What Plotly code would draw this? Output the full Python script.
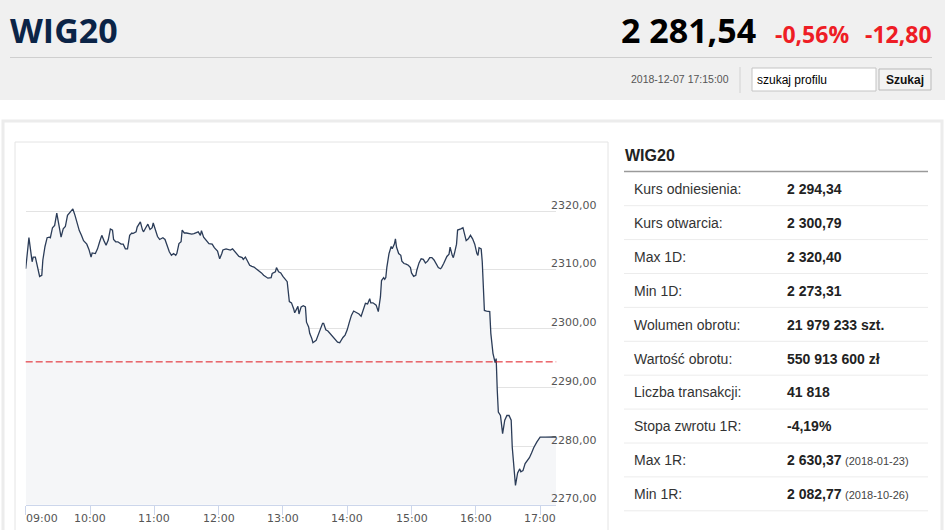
import plotly.graph_objects as go

W, H = 945, 530

# intraday WIG20 quotes, 2018-12-07
TIMES = [
    "09:00", "09:03", "09:06", "09:07", "09:09", "09:11", "09:13", "09:15", "09:16", "09:18",
    "09:20", "09:22", "09:23", "09:25", "09:27", "09:29", "09:31", "09:33", "09:35", "09:37",
    "09:39", "09:41", "09:44", "09:46", "09:48", "09:50", "09:52", "09:54", "09:57", "09:59",
    "10:01", "10:02", "10:05", "10:07", "10:09", "10:11", "10:13", "10:15", "10:17", "10:19",
    "10:21", "10:22", "10:24", "10:26", "10:29", "10:31", "10:33", "10:35", "10:37", "10:39",
    "10:40", "10:43", "10:44", "10:47", "10:49", "10:50", "10:52", "10:54", "10:56", "10:58",
    "10:59", "11:01", "11:03", "11:05", "11:08", "11:10", "11:12", "11:14", "11:16", "11:18",
    "11:20", "11:21", "11:23", "11:25", "11:26", "11:28", "11:30", "11:33", "11:35", "11:37",
    "11:40", "11:41", "11:43", "11:44", "11:46", "11:49", "11:51", "11:54", "11:56", "11:59",
    "12:01", "12:03", "12:04", "12:07", "12:09", "12:11", "12:13", "12:15", "12:17", "12:19",
    "12:22", "12:23", "12:25", "12:27", "12:29", "12:31", "12:33", "12:35", "12:38", "12:40",
    "12:42", "12:44", "12:46", "12:49", "12:50", "12:53", "12:54", "12:56", "12:58", "13:00",
    "13:02", "13:04", "13:06", "13:08", "13:10", "13:11", "13:14", "13:15", "13:17", "13:19",
    "13:21", "13:22", "13:24", "13:25", "13:27", "13:28", "13:31", "13:33", "13:35", "13:37",
    "13:38", "13:40", "13:42", "13:44", "13:46", "13:48", "13:50", "13:51", "13:53", "13:55",
    "13:56", "13:58", "14:00", "14:02", "14:04", "14:06", "14:09", "14:11", "14:13", "14:15",
    "14:17", "14:19", "14:21", "14:22", "14:24", "14:27", "14:29", "14:31", "14:32", "14:34",
    "14:35", "14:36", "14:37", "14:39", "14:41", "14:42", "14:44", "14:45", "14:46", "14:48",
    "14:50", "14:51", "14:53", "14:55", "14:57", "14:59", "15:00", "15:02", "15:04", "15:05",
    "15:07", "15:09", "15:11", "15:13", "15:15", "15:17", "15:19", "15:21", "15:23", "15:25",
    "15:27", "15:28", "15:30", "15:32", "15:33", "15:35", "15:36", "15:38", "15:39", "15:40",
    "15:42", "15:43", "15:45", "15:46", "15:48", "15:50", "15:51", "15:53", "15:55", "15:57",
    "15:59", "16:01", "16:02", "16:03", "16:05", "16:06", "16:08", "16:10", "16:13", "16:14",
    "16:16", "16:18", "16:19", "16:20", "16:21", "16:23", "16:25", "16:27", "16:29", "16:31",
    "16:33", "16:34", "16:37", "16:39", "16:41", "16:42", "16:44", "16:46", "16:48", "16:50",
    "16:52", "16:54", "16:57", "17:00", "17:05", "17:15",
]
VALUES = [
    2310.2, 2315.5, 2311.4, 2312.2, 2312.2, 2310.8, 2308.9, 2309.1, 2311.7, 2314.0,
    2315.5, 2315.6, 2315.5, 2317.2, 2317.6, 2319.7, 2317.9, 2315.6, 2317.0, 2317.4,
    2319.3, 2319.7, 2320.4, 2319.3, 2317.9, 2316.7, 2315.9, 2315.0, 2314.4, 2313.5,
    2312.2, 2312.9, 2312.8, 2313.6, 2314.8, 2315.9, 2315.0, 2314.2, 2315.1, 2317.0,
    2316.8, 2315.2, 2314.8, 2314.8, 2314.4, 2314.4, 2313.6, 2313.6, 2315.9, 2316.3,
    2316.2, 2316.5, 2317.3, 2318.2, 2316.8, 2316.5, 2317.2, 2317.8, 2316.9, 2317.2,
    2318.0, 2316.8, 2315.7, 2315.2, 2315.5, 2315.2, 2314.0, 2313.1, 2312.5, 2312.8,
    2312.5, 2312.8, 2314.5, 2314.8, 2316.8, 2316.3, 2316.3, 2316.1, 2316.1, 2316.2,
    2316.5, 2316.5, 2315.9, 2316.7, 2315.6, 2315.0, 2314.5, 2314.4, 2313.8, 2313.2,
    2311.9, 2312.8, 2313.4, 2313.6, 2313.5, 2313.4, 2313.6, 2313.1, 2312.8, 2312.3,
    2312.1, 2311.8, 2312.2, 2311.4, 2310.8, 2310.6, 2310.5, 2310.2, 2309.8, 2309.5,
    2309.1, 2308.8, 2308.6, 2308.7, 2309.4, 2309.7, 2310.4, 2309.7, 2309.5, 2308.9,
    2308.4, 2308.0, 2304.6, 2304.4, 2303.4, 2302.7, 2303.8, 2302.5, 2303.7, 2303.9,
    2303.7, 2301.1, 2300.3, 2299.2, 2298.3, 2297.6, 2298.0, 2298.9, 2299.7, 2300.9,
    2300.9, 2299.8, 2299.6, 2299.2, 2298.7, 2298.3, 2298.0, 2297.7, 2297.6, 2298.3,
    2298.5, 2298.9, 2299.8, 2301.1, 2302.3, 2303.0, 2302.7, 2302.5, 2302.1, 2303.1,
    2304.3, 2304.2, 2305.1, 2304.4, 2304.4, 2304.0, 2302.9, 2305.4, 2308.2, 2308.7,
    2308.4, 2308.7, 2310.5, 2312.8, 2314.0, 2313.6, 2314.4, 2315.3, 2313.9, 2312.8,
    2312.5, 2311.5, 2311.1, 2311.0, 2310.8, 2310.4, 2309.5, 2308.9, 2309.1, 2310.0,
    2311.2, 2311.9, 2311.8, 2311.2, 2311.5, 2312.1, 2312.1, 2311.7, 2311.0, 2310.4,
    2310.2, 2310.4, 2311.1, 2312.1, 2312.3, 2312.7, 2313.9, 2312.5, 2312.1, 2312.8,
    2314.4, 2316.8, 2316.9, 2317.0, 2317.2, 2315.9, 2315.0, 2315.3, 2315.9, 2315.3,
    2314.4, 2312.8, 2312.5, 2313.8, 2313.6, 2311.4, 2303.1, 2303.0, 2302.9, 2299.2,
    2295.8, 2294.2, 2294.9, 2289.5, 2285.8, 2285.2, 2282.1, 2284.4, 2285.2, 2285.2,
    2284.4, 2279.8, 2273.3, 2275.4, 2276.1, 2275.6, 2275.8, 2277.0, 2277.5, 2278.0,
    2278.8, 2279.7, 2280.7, 2281.5, 2281.5, 2281.54,
]
REF_LEVEL = 2294.34
DAY = "2018-12-07"
Y_TICKS = [2270, 2280, 2290, 2300, 2310, 2320, 2330]
Y_LABELED = [2270, 2280, 2290, 2300, 2310, 2320]
X_TICKS = ["09:00", "10:00", "11:00", "12:00", "13:00", "14:00", "15:00", "16:00", "17:00"]

NAME = "WIG20"
LAST = "2 281,54"
CHANGE_PCT = "-0,56%"
CHANGE_ABS = "-12,80"
STAMP = "2018-12-07 17:15:00"

ROW_LABELS = ["Kurs odniesienia:", "Kurs otwarcia:", "Max 1D:", "Min 1D:", "Wolumen obrotu:",
              "Wartość obrotu:", "Liczba transakcji:", "Stopa zwrotu 1R:", "Max 1R:", "Min 1R:"]
ROW_VALUES = ["2 294,34", "2 300,79", "2 320,40", "2 273,31", "21 979 233 szt.",
              "550 913 600 zł", "41 818", "-4,19%", "2 630,37", "2 082,77"]
ROW_NOTES = ["", "", "", "", "", "", "", "", "(2018-01-23)", "(2018-10-26)"]


def px(x):
    return x / W


def py(y):
    return 1 - y / H


def text(x, y, s, size, color, family="Liberation Sans", bold=False, anchor="left", yref="paper", yshift=0):
    return dict(x=px(x), y=py(y) if yref == "paper" else y, xref="paper", yref=yref,
                text=f"<b>{s}</b>" if bold else s, showarrow=False, xanchor=anchor,
                yanchor="middle", yshift=yshift, font=dict(size=size, color=color, family=family))


def rect(x0, y0, x1, y1, fill, line="rgba(0,0,0,0)", width=1):
    return dict(type="rect", xref="paper", yref="paper", x0=px(x0), x1=px(x1), y0=py(y1), y1=py(y0),
                fillcolor=fill, line=dict(color=line, width=width), layer="below")


def hline(x0, x1, y, color, width=1):
    return dict(type="line", xref="paper", yref="paper", x0=px(x0), x1=px(x1), y0=py(y), y1=py(y),
                line=dict(color=color, width=width), layer="below")


xs = [f"{DAY} {t}" for t in TIMES]

fig = go.Figure()
fig.add_trace(go.Scatter(x=xs, y=VALUES, mode="lines", fill="tozeroy",
                         fillcolor="#f5f6f8", line=dict(color="#2b3c58", width=1.3),
                         hoverinfo="skip", showlegend=False))

shapes = [
    rect(0, 0, W, 100, "#f0f0f0"),
    hline(10, 932, 57.5, "#cfcfcf"),
    dict(type="line", xref="paper", yref="paper", x0=px(740), x1=px(740), y0=py(93), y1=py(67),
         line=dict(color="#d2d2d2", width=1), layer="below"),
    rect(752, 68, 876, 91, "#ffffff", "#c4c4c4"),
    rect(879, 69, 931, 90, "#f3f3f3", "#b9b9b9"),
    rect(3, 121, 942, 540, "#ffffff", "#ececec", 3),
    rect(15, 142, 608, 540, "#ffffff", "#e4e4e4"),
    hline(624, 928, 171.5, "#9a9a9a", 1.5),
]
for i in range(len(ROW_LABELS)):
    shapes.append(hline(624, 928, 205.7 + i * 33.9, "#ececec"))

# reference price (kurs odniesienia)
shapes.append(dict(type="line", xref="x domain", yref="y", x0=0, x1=1, y0=REF_LEVEL, y1=REF_LEVEL,
                   line=dict(color="#e0181f", width=1, dash="7px,3px"), layer="above"))

ann = [
    text(8, 29.5, NAME, 34, "#0b2447", "Open Sans", bold=True),
    text(619, 30, LAST, 34, "#000000", "Open Sans", bold=True),
    text(773, 34, CHANGE_PCT, 23, "#ee1d25", "Open Sans", bold=True),
    text(863, 34, CHANGE_ABS, 23, "#ee1d25", "Open Sans", bold=True),
    text(731, 79, STAMP, 10.5, "#555555", anchor="right"),
    text(755, 79.5, "szukaj profilu", 12, "#000000"),
    text(905, 79.5, "Szukaj", 12, "#111111", bold=True, anchor="center"),
    text(623, 155, NAME, 16, "#222222", bold=True),
]
for i, (lab, val, note) in enumerate(zip(ROW_LABELS, ROW_VALUES, ROW_NOTES)):
    yc = 189 + i * 33.9
    ann.append(text(632, yc, lab, 14, "#333333"))
    ann.append(text(785, yc, val, 14, "#222222", bold=True))
    if note:
        ann.append(text(843, yc + 1, note, 11, "#444444"))

for v in Y_LABELED:
    ann.append(text(549, v, f"{v:.2f}".replace(".", ","), 11, "#555555", "DejaVu Sans",
                    yref="y", yshift=6))
for i, t in enumerate(X_TICKS):
    ann.append(dict(x=f"{DAY} {t}", y=py(518.5), xref="x", yref="paper", text=t, showarrow=False,
                    xanchor="left" if i == 0 else "center", yanchor="middle",
                    xshift=-2 if i == 0 else 0,
                    font=dict(size=11, color="#555555", family="DejaVu Sans")))

fig.update_layout(
    width=W, height=H, autosize=False,
    margin=dict(l=0, r=0, t=0, b=0),
    paper_bgcolor="#ffffff", plot_bgcolor="rgba(0,0,0,0)",
    shapes=shapes, annotations=ann,
    xaxis=dict(domain=[px(25.7), px(556.2)], type="date",
               range=[f"{DAY} 09:00", f"{DAY} 17:15"],
               tickvals=[f"{DAY} {t}" for t in X_TICKS], showticklabels=False,
               ticks="outside", ticklen=9, tickcolor="#ccd6eb", showline=True,
               linecolor="#ccd6eb", linewidth=1, showgrid=False, zeroline=False, fixedrange=True),
    yaxis=dict(domain=[py(504.7), py(152.3)], range=[2270, 2330.05], tickvals=Y_TICKS,
               showticklabels=False, showgrid=True, gridcolor="#e3e3e3", gridwidth=1,
               zeroline=False, showline=False, fixedrange=True),
)

# page body has a default 8px margin; drop it so the figure fills the window
fig.write_html("out.html", config={"displayModeBar": False},
               post_script="document.body.style.margin='0';document.body.style.overflow='hidden';")
